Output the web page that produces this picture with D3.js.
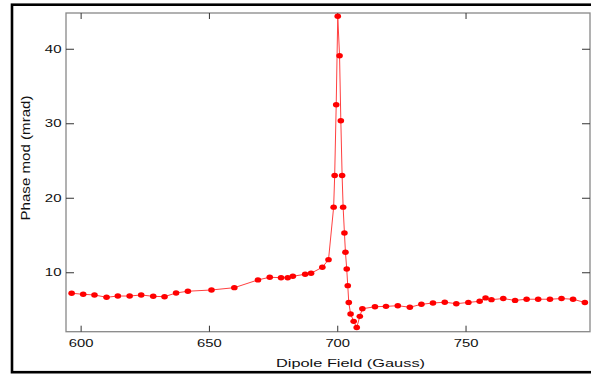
<!DOCTYPE html>
<html>
<head>
<meta charset="utf-8">
<script src="https://cdn.jsdelivr.net/npm/d3@7/dist/d3.min.js"></script>
<style>
  body { margin: 0; background: #fff; }
  text { font-family: "Liberation Sans", Arial, sans-serif; fill: #111; }
</style>
</head>
<body>
<svg id="chart" width="591" height="375"></svg>
<script>
// dipole field (Gauss) and phase modulation (mrad)
var field = [596.5, 601.0, 605.4, 610.1, 614.5, 619.1, 623.6, 628.3, 632.7, 637.2,
  641.8, 651.0, 659.9, 669.1, 673.7, 678.1, 680.7, 682.7, 687.5, 689.8,
  694.2, 696.6, 698.6, 699.0, 699.6, 700.2, 700.9, 701.4, 701.9, 702.3,
  702.8, 703.2, 703.7, 704.1, 704.5, 705.2, 706.4, 707.6, 708.8, 709.8,
  714.7, 719.0, 723.6, 728.3, 732.8, 737.3, 741.9, 746.4, 751.1, 755.5,
  757.8, 760.1, 764.7, 769.3, 773.8, 778.3, 782.9, 787.4, 791.9, 796.5];
var phase = [7.18, 7.04, 6.95, 6.64, 6.81, 6.81, 6.95, 6.77, 6.72, 7.22,
  7.45, 7.62, 7.93, 8.97, 9.33, 9.27, 9.27, 9.46, 9.73, 9.87,
  10.67, 11.69, 18.74, 22.98, 32.49, 44.36, 39.07, 30.34, 22.98, 18.74,
  15.27, 12.69, 10.44, 8.2, 5.93, 4.4, 3.41, 2.58, 4.08, 5.1,
  5.37, 5.42, 5.51, 5.3, 5.7, 5.87, 5.98, 5.78, 5.95, 6.1,
  6.56, 6.32, 6.47, 6.22, 6.38, 6.38, 6.38, 6.47, 6.38, 5.94];
var xTicks = [600, 650, 700, 750];
var yTicks = [10, 20, 30, 40];

var data = field.map(function(f, i) { return {f: f, p: phase[i]}; });

var L = 66, R = 590, T = 13, B = 331.7;

var x = d3.scaleLinear().domain([594.3, 798.5]).range([L, R]);
var y = d3.scaleLinear().domain([2.02, 44.8]).range([B, T]);

var svg = d3.select("#chart");

// outer frame
svg.append("rect")
  .attr("x", 12).attr("y", 4.7)
  .attr("width", 640).attr("height", 367.5)
  .attr("fill", "none").attr("stroke", "#000").attr("stroke-width", 2.6);

// plot box
svg.append("rect")
  .attr("x", L).attr("y", T)
  .attr("width", R - L).attr("height", B - T)
  .attr("fill", "#fff").attr("stroke", "#888").attr("stroke-width", 1.3);

function styleAxis(g) {
  g.select(".domain").remove();
  g.selectAll(".tick line").attr("stroke", "#333").attr("stroke-width", 1);
  g.selectAll("text").attr("font-size", 10.5).attr("fill", "#111")
    .attr("lengthAdjust", "spacingAndGlyphs");
}

// bottom + top axes
svg.append("g")
  .attr("transform", "translate(0," + B + ")")
  .call(d3.axisBottom(x).tickValues(xTicks).tickSize(-6).tickPadding(8))
  .call(styleAxis)
  .selectAll("text").attr("textLength", 24.7);

svg.append("g")
  .attr("transform", "translate(0," + T + ")")
  .call(d3.axisTop(x).tickValues(xTicks).tickSize(-6).tickFormat(""))
  .call(styleAxis);

// left + right axes
svg.append("g")
  .attr("transform", "translate(" + L + ",0)")
  .call(d3.axisLeft(y).tickValues(yTicks).tickSize(-8).tickPadding(4.5))
  .call(styleAxis)
  .selectAll("text").attr("textLength", 16.7);

svg.append("g")
  .attr("transform", "translate(" + R + ",0)")
  .call(d3.axisRight(y).tickValues(yTicks).tickSize(-8).tickFormat(""))
  .call(styleAxis);

// axis titles
svg.append("text")
  .attr("x", 350.5).attr("y", 366.7)
  .attr("text-anchor", "middle")
  .attr("font-size", 11.6)
  .attr("textLength", 149).attr("lengthAdjust", "spacingAndGlyphs")
  .text("Dipole Field (Gauss)");

svg.append("text")
  .attr("transform", "translate(30,158) rotate(-90)")
  .attr("text-anchor", "middle")
  .attr("font-size", 13.5)
  .attr("textLength", 125).attr("lengthAdjust", "spacingAndGlyphs")
  .text("Phase mod (mrad)");

// series
var line = d3.line()
  .x(function(d) { return x(d.f); })
  .y(function(d) { return y(d.p); });

svg.append("path")
  .datum(data)
  .attr("d", line)
  .attr("fill", "none")
  .attr("stroke", "#ff4040")
  .attr("stroke-width", 1);

svg.append("g").selectAll("ellipse")
  .data(data)
  .enter().append("ellipse")
  .attr("cx", function(d) { return x(d.f); })
  .attr("cy", function(d) { return y(d.p); })
  .attr("rx", 3.3)
  .attr("ry", 2.7)
  .attr("fill", "#ff0000");
</script>
</body>
</html>
